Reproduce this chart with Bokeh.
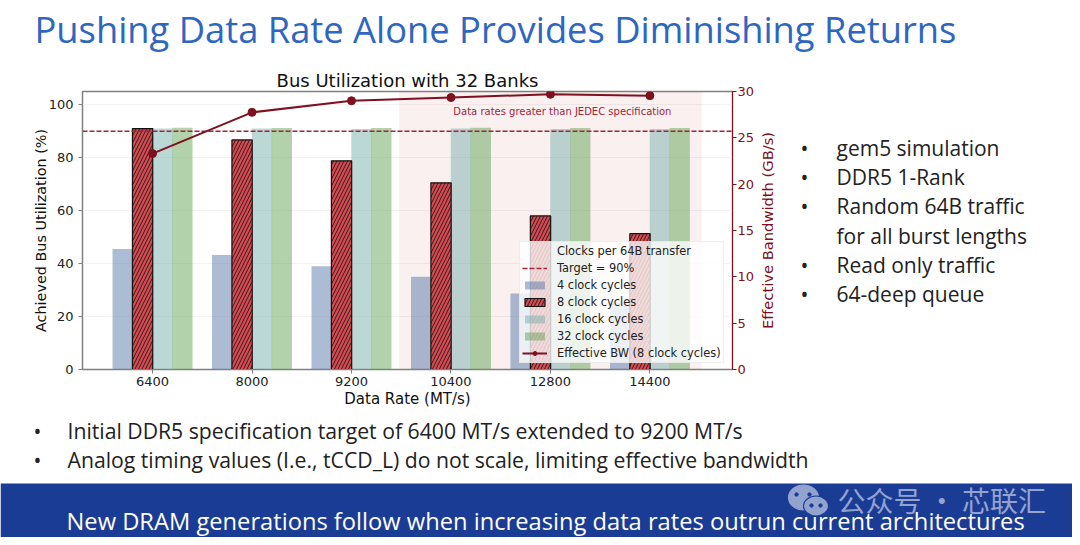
from bokeh.plotting import figure
from bokeh.layouts import column, row
from bokeh.models import Range1d, LinearAxis, FixedTicker, Legend, LegendItem
from bokeh.core.properties import value
from bokeh.embed import file_html
from bokeh.resources import INLINE
import numpy as np

# ---- data ----
data_rates = ["6400", "8000", "9200", "10400", "12800", "14400"]
util_4 = [45.5, 43.2, 39.0, 35.0, 28.7, 25.0]
util_8 = [91.0, 86.7, 78.8, 70.5, 58.0, 51.3]
util_16 = [91.0, 91.0, 90.8, 91.0, 90.8, 90.8]
util_32 = [91.3, 91.2, 91.2, 91.3, 91.2, 91.2]
effective_bw = [23.3, 27.75, 29.0, 29.35, 29.7, 29.55]
target = [90, 90]
y_ticks = [0, 20, 40, 60, 80, 100]
bw_ticks = [0, 5, 10, 15, 20, 25, 30]

slide_title = "Pushing Data Rate Alone Provides Diminishing Returns"
right_bullets = ["gem5 simulation", "DDR5 1-Rank", "Random 64B traffic", "for all burst lengths",
                 "Read only traffic", "64-deep queue"]
right_has_dot = [True, True, True, False, True, True]
lower_bullets = ["Initial DDR5 specification target of 6400 MT/s extended to 9200 MT/s",
                 "Analog timing values (I.e., tCCD_L) do not scale, limiting effective bandwidth"]
band_text = "New DRAM generations follow when increasing data rates outrun current architectures"
watermark = "公众号 · 芯联汇"

DARK = "#7f1020"
BAND = "#1b3c94"
MARK = "#93a3cf"
MPL = value("DejaVu Sans")
OS = value("Open Sans")
X0, X1 = -0.704, 5.83
PAGE_W, PAGE_H = 1072, 537
CHART_W = 757


def pane(x0, y0, x1, y1, bg="#ffffff", height=None):
    """Blank figure whose data coordinates are page pixels."""
    f = figure(width=x1 - x0, height=height or (y1 - y0), x_range=Range1d(x0, x1), y_range=Range1d(y1, y0),
               toolbar_location=None, output_backend="svg", min_border=0,
               x_axis_location=None, y_axis_location=None, background_fill_color=bg,
               border_fill_color=bg, outline_line_color=None)
    f.grid.visible = False
    return f


def txt(f, x, y, s, size, color, font=OS, align="left", angle=0.0):
    f.text([x], [y], text=[s], text_font=font, text_font_size=size, text_color=color,
           text_align=align, text_baseline="middle", angle=angle)


# ---- header ----
head = pane(0, 0, PAGE_W, 66)
txt(head, 34, 28, slide_title, "36.3px", "#2e66c0")

# ---- chart ----
p = figure(width=CHART_W, height=344, x_range=Range1d(X0, X1), y_range=Range1d(0, 105),
           toolbar_location=None, output_backend="svg",
           min_border_left=82, min_border_right=25, min_border_top=21, min_border_bottom=41,
           outline_line_color="#808080", outline_line_width=1.5)
p.xgrid.visible = False
p.ygrid.ticker = FixedTicker(ticks=y_ticks)
p.ygrid.grid_line_color = "#f3f3f3"

p.title.text = "Bus Utilization with 32 Banks"
p.title.text_font = "DejaVu Sans"
p.title.text_font_size = "18px"
p.title.text_font_style = "normal"
p.title.text_color = "#111111"
p.title.align = "center"
p.title.standoff = 2

p.extra_y_ranges = {"bw": Range1d(0, 30)}
xs = np.arange(len(data_rates))

p.quad(left=2.48, right=5.52, bottom=0, top=105, fill_color="#c03030", fill_alpha=0.075, line_alpha=0)

w = 0.204
r4 = p.vbar(xs - 0.3, w, util_4, fill_color="#4f74a6", fill_alpha=0.48, line_alpha=0)
r16 = p.vbar(xs + 0.1, w, util_16, fill_color="#6aa8a4", fill_alpha=0.45, line_alpha=0)
r32 = p.vbar(xs + 0.3, w, util_32, fill_color="#5ba04f", fill_alpha=0.48, line_alpha=0)
r8 = p.vbar(xs - 0.1, w, util_8, fill_color="#d8494f", line_color="#111111", line_width=1.2,
            hatch_pattern="right_diagonal_line", hatch_color="#1a1a1a", hatch_weight=0.9, hatch_scale=7)
rt = p.line([X0, X1], target, line_color="#a02538", line_dash="5 2", line_width=1.5)
rb_l = p.line(xs, effective_bw, y_range_name="bw", line_color=DARK, line_width=2)
rb_c = p.scatter(xs, effective_bw, y_range_name="bw", size=8, color=DARK)
r_ttl = p.line([], [], line_alpha=0)

p.text([4.12], [97.6], text=["Data rates greater than JEDEC specification"], text_font=MPL,
       text_font_size="10px", text_color="#a02538", text_align="center", text_baseline="middle")

for ax in [p.xaxis[0], p.yaxis[0]]:
    ax.axis_line_color = "#808080"
    ax.major_tick_line_color = "#808080"
    ax.minor_tick_line_color = None
    ax.major_label_text_font = "DejaVu Sans"
    ax.major_label_text_font_size = "13px"
    ax.major_label_text_color = "#222222"
    ax.axis_label_text_font = "DejaVu Sans"
    ax.axis_label_text_font_style = "normal"
    ax.axis_label_text_color = "#111111"
    ax.major_tick_out = 4
    ax.major_tick_in = 0

p.xaxis.ticker = FixedTicker(ticks=list(xs))
p.xaxis.major_label_overrides = {int(i): s for i, s in zip(xs, data_rates)}
p.xaxis.axis_label = "Data Rate (MT/s)"
p.xaxis.axis_label_text_font_size = "15px"
p.xaxis.axis_label_standoff = 1
p.xaxis.major_label_standoff = 3
p.yaxis.ticker = FixedTicker(ticks=y_ticks)
p.yaxis.axis_label = "Achieved Bus Utilization (%)"
p.yaxis.axis_label_text_font_size = "14.4px"
p.yaxis.axis_label_standoff = -3

ax2 = LinearAxis(y_range_name="bw", ticker=FixedTicker(ticks=bw_ticks))
ax2.axis_line_color = DARK
ax2.major_tick_line_color = DARK
ax2.minor_tick_line_color = None
ax2.major_tick_out = 4
ax2.major_tick_in = 0
ax2.major_label_standoff = 1
ax2.major_label_text_color = DARK
ax2.major_label_text_font = "DejaVu Sans"
ax2.major_label_text_font_size = "13px"
p.add_layout(ax2, "right")

legend = Legend(items=[
    LegendItem(label="Clocks per 64B transfer", renderers=[r_ttl]),
    LegendItem(label="Target = 90%", renderers=[rt]),
    LegendItem(label="4 clock cycles", renderers=[r4]),
    LegendItem(label="8 clock cycles", renderers=[r8]),
    LegendItem(label="16 clock cycles", renderers=[r16]),
    LegendItem(label="32 clock cycles", renderers=[r32]),
    LegendItem(label="Effective BW (8 clock cycles)", renderers=[rb_l, rb_c]),
], location=(437, 6), label_text_font="DejaVu Sans", label_text_font_size="11.4px", label_text_color="#222222",
    background_fill_color="#ffffff", background_fill_alpha=0.78, border_line_color="#dddddd",
    glyph_width=25, glyph_height=10, label_height=14, spacing=3, padding=2, margin=0, label_standoff=10)
p.add_layout(legend, "center")

# ---- right pane: its frame is aligned by the row with the chart's frame ----
side = pane(CHART_W, 91, PAGE_W, 369, height=344)
txt(side, 767, 230, "Effective Bandwidth (GB/s)", "14.7px", DARK, font=MPL, align="center", angle=float(np.pi / 2))
for i, (s, dot) in enumerate(zip(right_bullets, right_has_dot)):
    yy = [147, 176, 205, 235, 264, 293][i]
    if dot:
        txt(side, 804, yy, "•", "21px", "#222222", align="center")
    txt(side, 836, yy, s, "21px", "#222222")

# ---- lower bullets ----
low = pane(0, 410, PAGE_W, 475)
for yy, s in zip([430, 459], lower_bullets):
    txt(low, 37, yy, "•", "21px", "#222222", align="center")
    txt(low, 67, yy, s, "21.2px", "#222222")

# ---- band ----
band = pane(0, 475, PAGE_W, PAGE_H)
band.quad(left=0, right=PAGE_W, top=483, bottom=PAGE_H, fill_color=BAND, line_alpha=0)
band.ellipse([803, 815.5], [497, 505.5], width=[30, 25], height=[25, 20], color=[MARK, MARK],
             line_color=[MARK, BAND], line_width=1.2)
band.circle([796, 809, 811, 820], [494, 494, 505, 505], radius=1.7, color=BAND)
txt(band, 837, 499, watermark, "28px", MARK, font=value("Noto Sans CJK SC"))
txt(band, 66, 520, band_text, "23.7px", "#ffffff")

layout = column(head, row(p, side), low, band, spacing=0)
open("out.html", "w").write(file_html(layout, INLINE))
